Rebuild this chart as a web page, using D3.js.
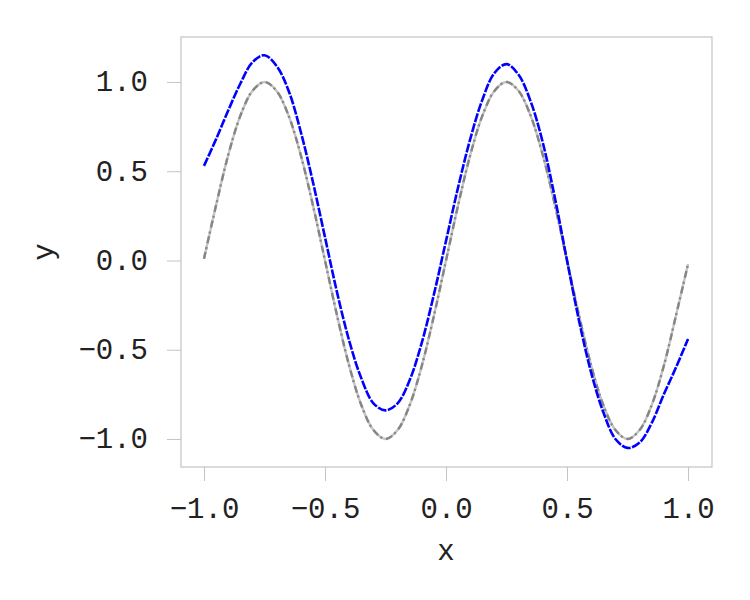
<!DOCTYPE html>
<html>
<head>
<meta charset="utf-8">
<script src="https://cdn.jsdelivr.net/npm/d3@7"></script>
<style>
  body { margin: 0; background: #fff; overflow: hidden; }
  svg { display: block; }
  text { font-family: "Liberation Mono", "Courier New", monospace; fill: #222; }
</style>
</head>
<body>
<div id="chart"></div>
<script>
// x positions where both curves were read
const xs = [
  -1.00, -0.95, -0.90, -0.85, -0.80, -0.75, -0.70, -0.65, -0.60, -0.55,
  -0.50, -0.45, -0.40, -0.35, -0.30, -0.25, -0.20, -0.15, -0.10, -0.05,
   0.00,  0.05,  0.10,  0.15,  0.20,  0.25,  0.30,  0.35,  0.40,  0.45,
   0.50,  0.55,  0.60,  0.65,  0.70,  0.75,  0.80,  0.85,  0.90,  0.95, 1.00
];

// gray dash-dot points
const grayY = [
   0.01,  0.31,  0.59,  0.81,  0.95,  1.00,  0.95,  0.81,  0.59,  0.31,
   0.00, -0.31, -0.59, -0.81, -0.95, -1.00, -0.95, -0.81, -0.59, -0.31,
   0.00,  0.31,  0.59,  0.81,  0.95,  1.00,  0.95,  0.81,  0.59,  0.31,
   0.00, -0.31, -0.59, -0.81, -0.95, -1.00, -0.95, -0.81, -0.59, -0.31, -0.02
];

// blue points
const blueY = [
   0.53,  0.68,  0.84,  0.99,  1.11,  1.15,  1.09,  0.95,  0.72,  0.44,
   0.13, -0.18, -0.45, -0.66, -0.80, -0.84, -0.80, -0.67, -0.46, -0.19,
   0.11,  0.41,  0.68,  0.90,  1.05,  1.10,  1.04,  0.89,  0.66,  0.35,
   0.00, -0.34, -0.63, -0.85, -1.00, -1.05, -1.02, -0.91, -0.75, -0.60, -0.44
];

const xTicks = [-1.0, -0.5, 0.0, 0.5, 1.0];
const yTicks = [-1.0, -0.5, 0.0, 0.5, 1.0];

const width = 750;
const height = 600;
const margin = { top: 37, right: 38, bottom: 133, left: 181 };
const innerWidth = width - margin.left - margin.right;
const innerHeight = height - margin.top - margin.bottom;
const fontSize = 29;

const svg = d3.select("#chart")
  .append("svg")
  .attr("width", width)
  .attr("height", height);

const chart = svg.append("g")
  .attr("transform", `translate(${margin.left},${margin.top})`);

const x = d3.scaleLinear()
  .domain([-1.095, 1.099])
  .range([0, innerWidth]);

const y = d3.scaleLinear()
  .domain([-1.157, 1.252])
  .range([innerHeight, 0]);

const fmt = d3.format(".1f");

// Axes
const xAxis = chart.append("g")
  .attr("transform", `translate(0,${innerHeight})`)
  .call(d3.axisBottom(x).tickValues(xTicks).tickSize(14).tickPadding(16).tickFormat(fmt));

const yAxis = chart.append("g")
  .call(d3.axisLeft(y).tickValues(yTicks).tickSize(14).tickPadding(19).tickFormat(fmt));

[xAxis, yAxis].forEach(a => {
  a.select(".domain").remove();
  a.selectAll(".tick line").attr("stroke", "#c4c4c4").attr("stroke-width", 1);
  a.selectAll(".tick text")
    .attr("font-size", fontSize)
    .attr("font-family", null)
    .attr("fill", "#222")
    .attr("dy", null);
});

// explicit baselines instead of em offsets
xAxis.selectAll(".tick text").attr("y", 51);
yAxis.selectAll(".tick text").attr("y", 9);

// Box
chart.append("rect")
  .attr("x", 0)
  .attr("y", 0)
  .attr("width", innerWidth)
  .attr("height", innerHeight)
  .attr("fill", "none")
  .attr("stroke", "#c4c4c4")
  .attr("stroke-width", 1.2);

// Lines
const line = d3.line()
  .x(d => x(d[0]))
  .y(d => y(d[1]))
  .curve(d3.curveCatmullRom);

const grayData = xs.map((v, i) => [v, grayY[i]]);
const blueData = xs.map((v, i) => [v, blueY[i]]);

chart.append("path")
  .datum(grayData)
  .attr("fill", "none")
  .attr("stroke", "#c4c4c4")
  .attr("stroke-width", 2.4)
  .attr("d", line);

chart.append("path")
  .datum(grayData)
  .attr("fill", "none")
  .attr("stroke", "#858585")
  .attr("stroke-width", 2.4)
  .attr("stroke-dasharray", "7,3,2,4")
  .attr("d", line);

chart.append("path")
  .datum(blueData)
  .attr("fill", "none")
  .attr("stroke", "#0000ff")
  .attr("stroke-width", 2.6)
  .attr("stroke-dasharray", "9,1.5")
  .attr("d", line);

// Axis labels
svg.append("text")
  .attr("x", margin.left + x(0))
  .attr("y", 560)
  .attr("text-anchor", "middle")
  .attr("font-size", fontSize)
  .text("x");

svg.append("text")
  .attr("transform", `translate(53,${margin.top + innerHeight / 2}) rotate(-90)`)
  .attr("text-anchor", "middle")
  .attr("font-size", fontSize)
  .text("y");
</script>
</body>
</html>
